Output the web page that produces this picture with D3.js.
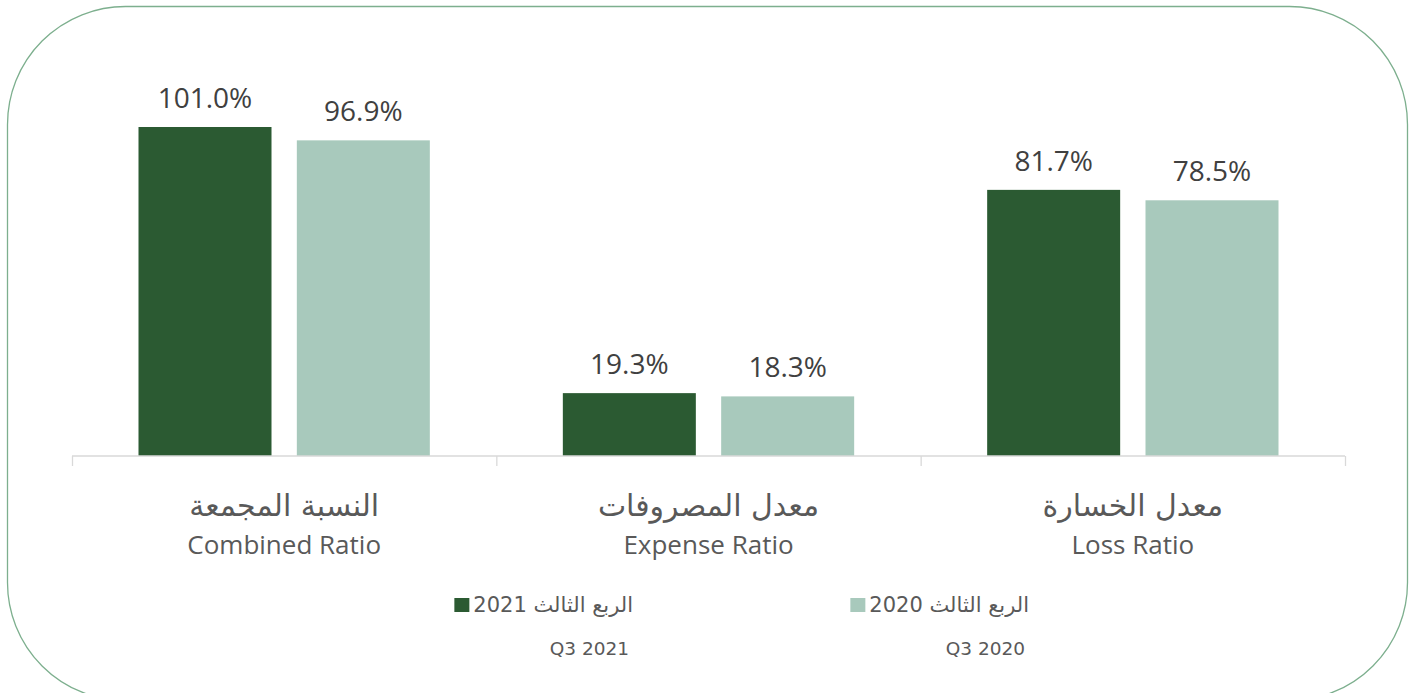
<!DOCTYPE html>
<html><head><meta charset="utf-8">
<script src="https://cdn.jsdelivr.net/npm/d3@7"></script>
<style>html,body{margin:0;padding:0;background:#fff;}svg{display:block;}</style>
</head><body>
<svg id="chart" width="1416" height="693"></svg>
<script>
const categoriesAr = ["النسبة المجمعة", "معدل المصروفات", "معدل الخسارة"];
const categoriesEn = ["Combined Ratio", "Expense Ratio", "Loss Ratio"];
const seriesNamesAr = ["الربع الثالث 2021", "الربع الثالث 2020"];
const seriesNamesEn = ["Q3 2021", "Q3 2020"];
const q3_2021 = [101.0, 19.3, 81.7];
const q3_2020 = [96.9, 18.3, 78.5];
const colors = ["#2b5a32", "#a8c9bc"];

const svg = d3.select("#chart");
svg.append("rect").attr("x", 7.5).attr("y", 6.5).attr("width", 1400).attr("height", 694)
  .attr("rx", 118).attr("ry", 118).attr("fill", "none").attr("stroke", "#7daf8e").attr("stroke-width", 1.3);

const x0 = d3.scaleBand().domain(d3.range(categoriesEn.length)).range([72, 1345]).paddingInner(0).paddingOuter(0);
const x1 = d3.scaleBand().domain([0, 1]).range([0, x0.bandwidth()]).paddingInner(0.16).paddingOuter(0.42);
const y = d3.scaleLinear().domain([0, 101]).range([456, 127]);

const series = [q3_2021, q3_2020];
const g = svg.append("g");
series.forEach((vals, s) => {
  g.selectAll(null).data(vals).enter().append("rect")
    .attr("x", (d, i) => x0(i) + x1(s))
    .attr("y", d => y(d))
    .attr("width", x1.bandwidth())
    .attr("height", d => y(0) - y(d))
    .attr("fill", colors[s]);
  g.selectAll(null).data(vals).enter().append("text")
    .attr("x", (d, i) => x0(i) + x1(s) + x1.bandwidth() / 2)
    .attr("y", d => y(d) - 19)
    .attr("text-anchor", "middle")
    .attr("font-family", "'Open Sans', sans-serif")
    .attr("font-size", 28)
    .attr("fill", "#404040")
    .text(d => d.toFixed(1) + "%");
});

// axis
const axis = svg.append("g").attr("transform", "translate(0,456)")
  .call(d3.axisBottom(d3.scaleLinear().domain([0, 3]).range([72, 1345])).tickValues([0, 1, 2, 3]).tickSize(10).tickFormat(""));
axis.selectAll("path,line").attr("stroke", "#d9d9d9").attr("stroke-width", 1.3);
axis.select(".domain").attr("d", "M72,0H1345");

// category labels
categoriesEn.forEach((c, i) => {
  const cx = x0(i) + x0.bandwidth() / 2;
  svg.append("text").attr("x", cx).attr("y", 516).attr("text-anchor", "middle")
    .attr("font-family", "'DejaVu Sans', sans-serif").attr("font-size", 30).attr("fill", "#595959")
    .text(categoriesAr[i]);
  svg.append("text").attr("x", cx).attr("y", 554).attr("text-anchor", "middle")
    .attr("font-family", "'Open Sans', sans-serif").attr("font-size", 26).attr("fill", "#595959")
    .text(c);
});

// legend
const legRight = [633, 1029];
seriesNamesEn.forEach((n, s) => {
  const t = svg.append("text").attr("x", legRight[s]).attr("y", 612).attr("text-anchor", "end")
    .attr("font-family", "'DejaVu Sans', sans-serif").attr("font-size", 21).attr("fill", "#595959")
    .text(seriesNamesAr[s]);
  const bb = t.node().getBBox();
  svg.append("rect").attr("x", bb.x - 19).attr("y", 598).attr("width", 15).attr("height", 14).attr("fill", colors[s]);
  svg.append("text").attr("x", legRight[s] - 4).attr("y", 655).attr("text-anchor", "end")
    .attr("font-family", "'DejaVu Sans', sans-serif").attr("font-size", 18.5).attr("fill", "#595959")
    .text(n);
});
</script>
</body></html>
